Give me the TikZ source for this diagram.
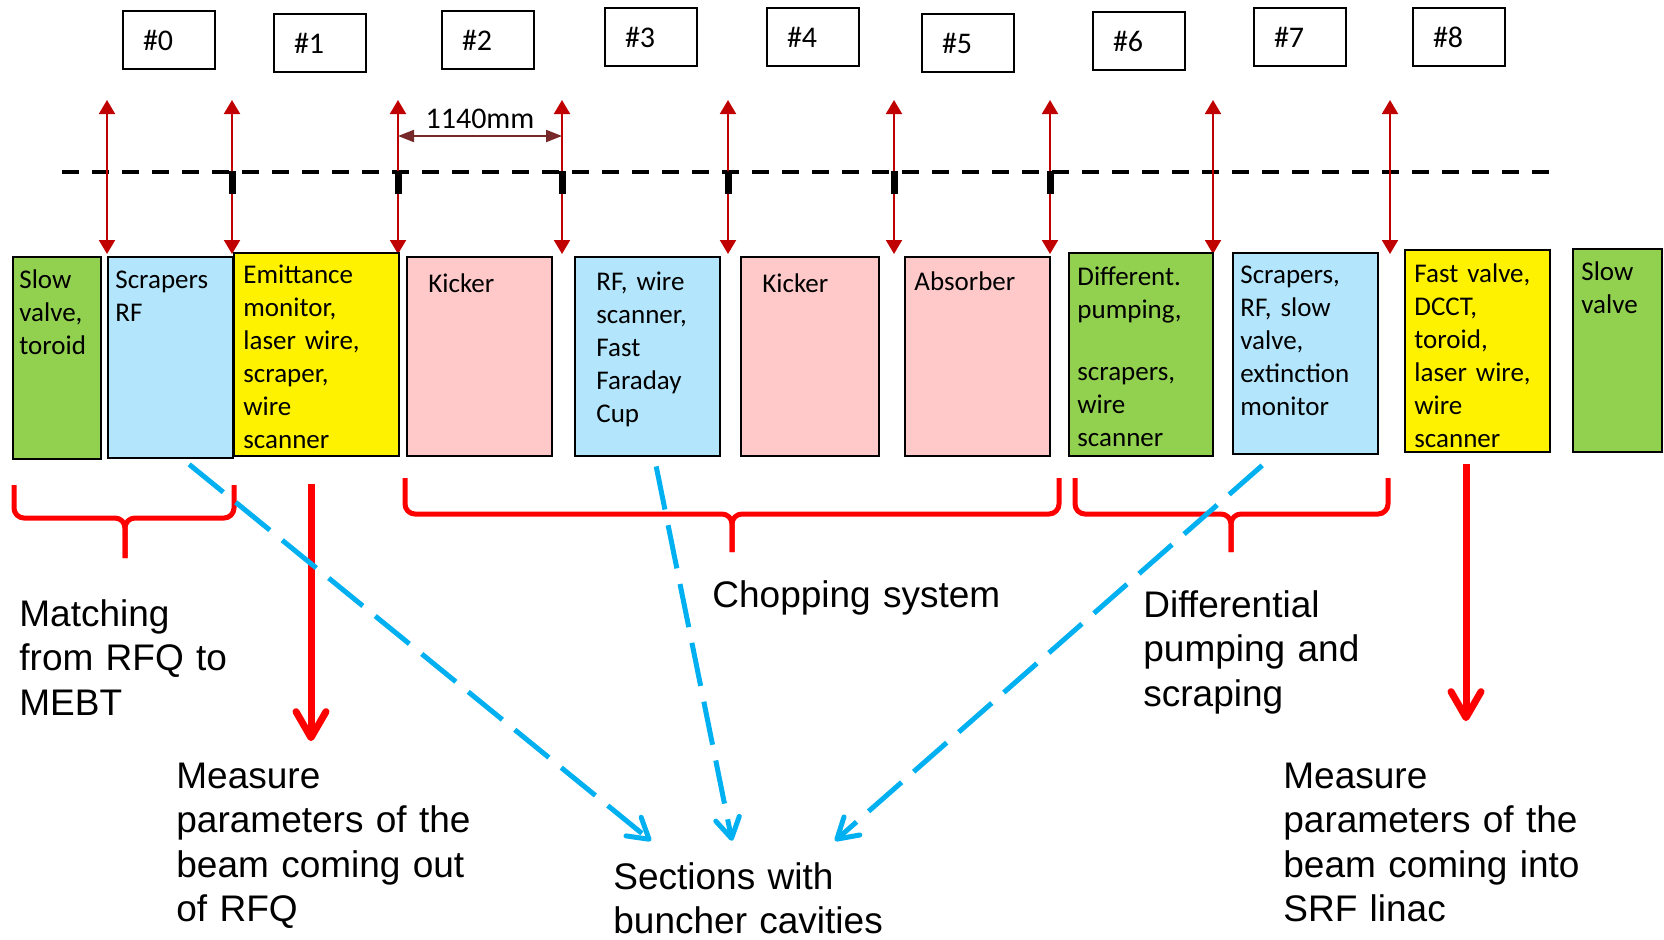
\documentclass[tikz,border=0pt]{standalone}
\usepackage{fontspec}
\setmainfont{Carlito}
\newfontfamily\arialfont{Liberation Sans}
\usetikzlibrary{arrows.meta}
\definecolor{valvegreen}{HTML}{92D050}
\definecolor{diagblue}{HTML}{B3E5FC}
\definecolor{kickpink}{HTML}{FFC9C9}
\definecolor{markred}{HTML}{C00000}
\definecolor{dimred}{HTML}{772828}
\definecolor{cavblue}{HTML}{00B0F0}

\begin{document}
\begin{tikzpicture} [x=0.5pt, y=-0.5pt,
	numbox/.style = {draw, line width=1pt, inner xsep=10pt, text width=26pt, minimum height=29pt, align=left, font=\fontsize{15}{18}\selectfont},
	part/.style = {draw, line width=1.2pt, anchor=north west, inner sep=0pt},
	intext/.style = {anchor=base west, inner sep=0pt, text width=70pt, align=left, font=\fontsize{13.5}{16.5}\selectfont},
	note/.style = {anchor=base west, inner sep=0pt, text width=170pt, align=left, font=\arialfont\fontsize{18.5}{22.25}\selectfont},
	marker/.style = {markred, line width=1pt, {Triangle[length=7pt,width=8pt]}-{Triangle[length=7pt,width=8pt]}},
	brace/.style = {red, line width=2.5pt, rounded corners=5pt},
	outarrow/.style = {red, line width=3.5pt, -{Straight Barb[length=13pt,width=15pt,round]}},
	cavarrow/.style = {cavblue, line width=2.5pt, dash pattern=on 22pt off 8pt, -{Straight Barb[length=10pt,width=12pt,round]}}]
	\useasboundingbox (0,0) rectangle (1664,939);

	% section numbers
	\foreach \x/\y [count=\i from 0] in {122/10, 273/13, 441/10, 604/7, 766/7, 921/13, 1092/11, 1253/7, 1412/7}
		\node[numbox, anchor=north west] (n\i) at (\x,\y) {\#\i};

	\draw[line width=2.2pt, dash pattern=on 8.5pt off 6.5pt] (62,172) -- (1558,172);
	\foreach \x [count=\i] in {107,232,398,562,728,894,1050,1213,1390} {
		\coordinate (m\i) at (\x,100);
		\coordinate (f\i) at (\x,254);
		\draw[marker] (m\i) -- (f\i);
	}
	\foreach \x in {232,398,562,728,894,1050}
		\draw[line width=3.5pt] (\x,171) -- (\x,194);
	\coordinate (d1) at (398,136);
	\coordinate (d2) at (562,136);
	\draw[dimred, line width=1pt, {Triangle[length=8pt,width=6pt]}-{Triangle[length=8pt,width=6pt]}] (d1) -- node[above, black, font=\fontsize{15}{18}\selectfont] (span) {1140mm} (d2);

	% beam line elements
	\node[part, fill=valvegreen, minimum width=44pt, minimum height=101pt] (sv1) at (12,256) {};
	\node[part, fill=diagblue, minimum width=62.5pt, minimum height=100.5pt] (sr1) at (107,256) {};
	\node[part, fill=yellow, minimum width=82.5pt, minimum height=101.5pt] (em) at (233,252) {};
	\node[part, fill=kickpink, minimum width=72.5pt, minimum height=99.5pt] (k1) at (406,256) {};
	\node[part, fill=diagblue, minimum width=72.5pt, minimum height=99.5pt] (rfw) at (574,256) {};
	\node[part, fill=kickpink, minimum width=69pt, minimum height=99.5pt] (k2) at (740,256) {};
	\node[part, fill=kickpink, minimum width=72.5pt, minimum height=99.5pt] (ab) at (904,256) {};
	\node[part, fill=valvegreen, minimum width=72pt, minimum height=101.5pt] (dp) at (1068,252) {};
	\node[part, fill=diagblue, minimum width=72.5pt, minimum height=100.5pt] (sr2) at (1232,252) {};
	\node[part, fill=yellow, minimum width=72.5pt, minimum height=101pt] (fv) at (1404,249) {};
	\node[part, fill=valvegreen, minimum width=44.5pt, minimum height=101.5pt] (sv2) at (1572,248) {};

	\node[intext] (sv1t) at (19,288) {Slow\\valve,\\toroid};
	\node[intext] (sr1t) at (115,288) {Scrapers\\RF};
	\node[intext] (emt) at (243,283) {Emittance\\monitor,\\laser wire,\\scraper,\\wire\\scanner};
	\node[intext] (k1t) at (428,292) {Kicker};
	\node[intext] (rfwt) at (596,290) {RF, wire\\scanner,\\Fast\\Faraday\\Cup};
	\node[intext] (k2t) at (762,292) {Kicker};
	\node[intext] (abt) at (914,290) {Absorber};
	\node[intext] (dpt) at (1077,285) {Different.\\pumping,\\[14.5pt]scrapers,\\wire\\scanner};
	\node[intext] (sr2t) at (1240,283) {Scrapers,\\RF, slow\\valve,\\extinction\\monitor};
	\node[intext] (fvt) at (1414,282) {Fast valve,\\DCCT,\\toroid,\\laser wire,\\wire\\scanner};
	\node[intext] (sv2t) at (1581,280) {Slow\\valve};

	% groups
	\draw[brace] (14,485) |- (125,518) -- (125,558);
	\draw[brace] (234,485) |- (125,518) -- (125,558);
	\draw[brace] (405,478) |- (732,514) -- (732,552);
	\draw[brace] (1059,478) |- (732,514) -- (732,552);
	\draw[brace] (1075,478) |- (1231,514) -- (1231,552);
	\draw[brace] (1388,478) |- (1231,514) -- (1231,552);

	\node[note] (match) at (19,626) {Matching\\from RFQ to\\MEBT};
	\node[note] (rfqout) at (176,788) {Measure\\parameters of the\\beam coming out\\of RFQ};
	\node[note] (chop) at (712,607) {Chopping system};
	\node[note] (cav) at (613,889) {Sections with\\buncher cavities};
	\node[note] (pump) at (1143,617) {Differential\\pumping and\\scraping};
	\node[note] (srfin) at (1283,788) {Measure\\parameters of the\\beam coming into\\SRF linac};

	\coordinate (o1) at (311,484);
	\coordinate (o2) at (1466,464);
	\draw[outarrow, shorten >=10.5pt] (o1) -- (o1 |- rfqout.north);
	\draw[outarrow, shorten >=20.5pt] (o2) -- (o2 |- srfin.north);

	\draw[cavarrow] ([xshift=9.25pt, yshift=-2.5pt]sr1.south) -- ([xshift=19pt, yshift=10.5pt]cav.north west);
	\draw[cavarrow] ([xshift=4.25pt, yshift=-4.5pt]rfw.south) -- ([xshift=59.5pt, yshift=10.5pt]cav.north west);
	\draw[cavarrow] ([xshift=-21.75pt, yshift=-5pt]sr2.south) -- ([xshift=111pt, yshift=10.5pt]cav.north west);
	%\draw[help lines] (0,0) grid (1664,939);
\end{tikzpicture}
\end{document}
